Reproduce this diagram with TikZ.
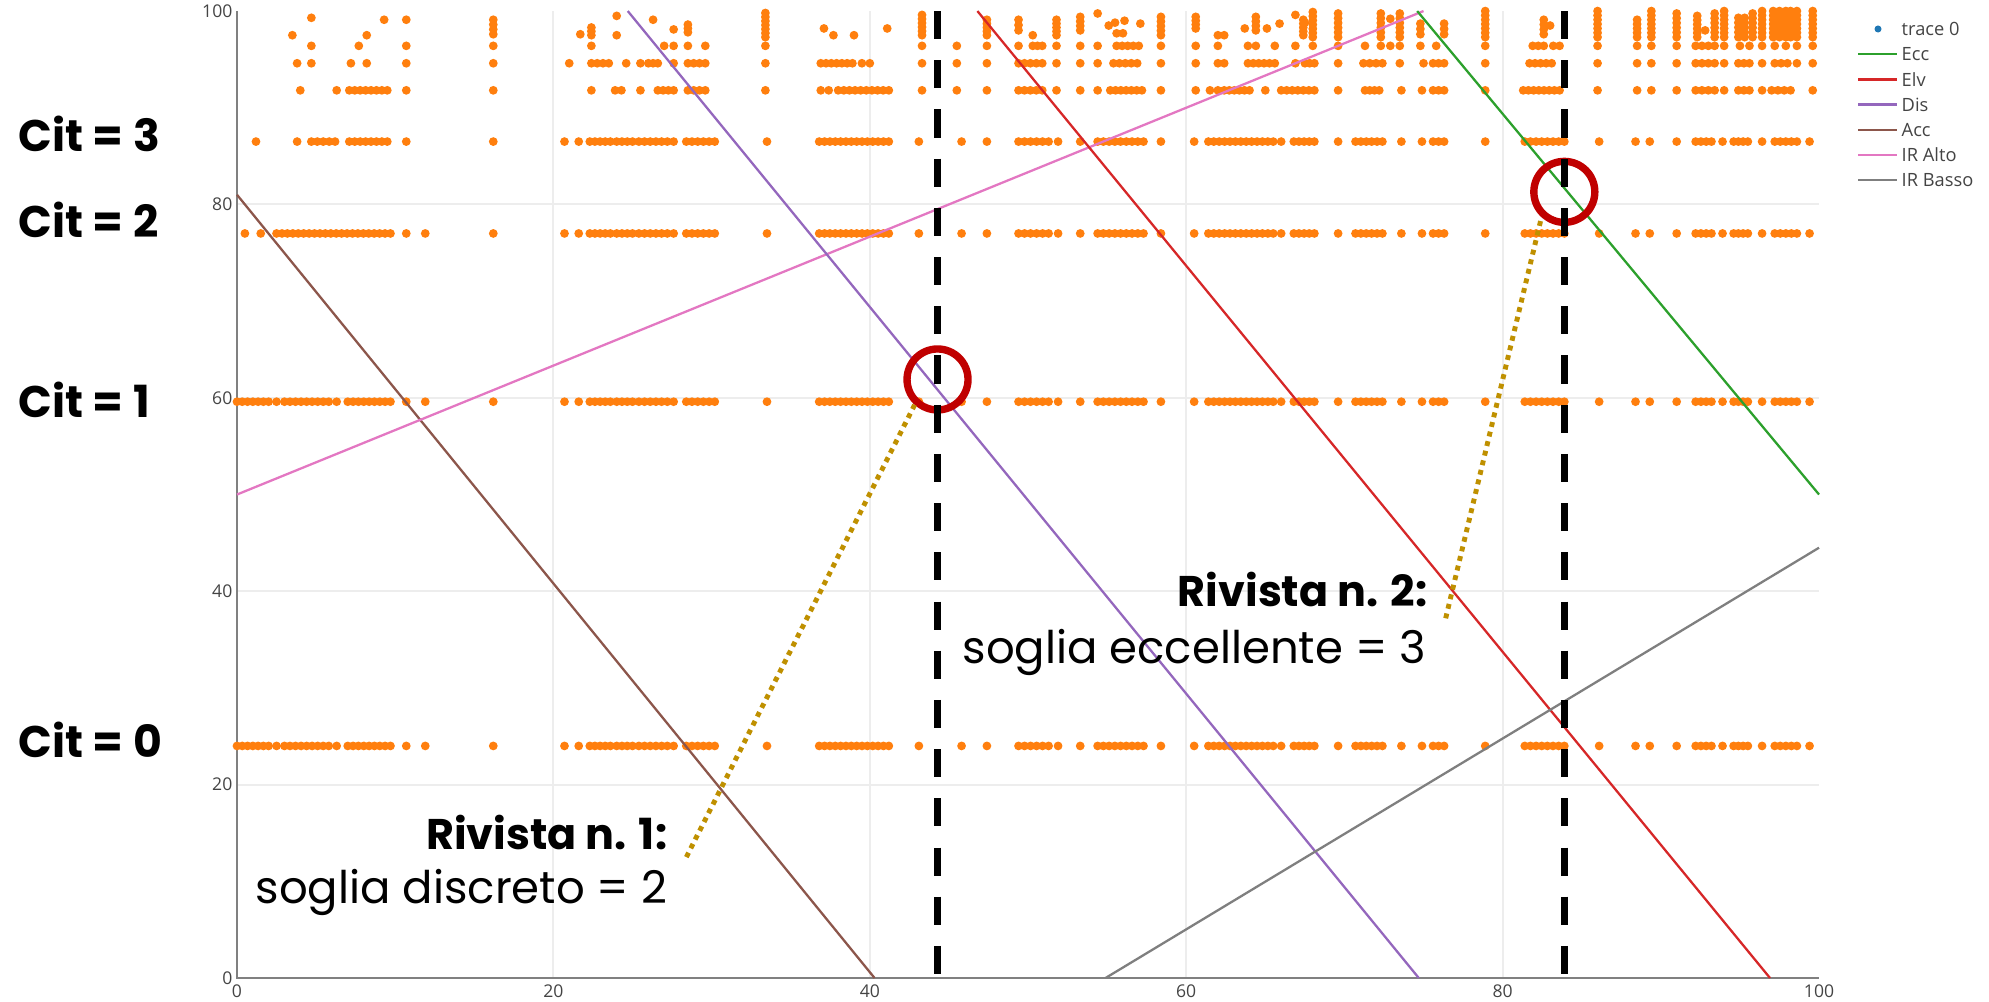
\documentclass[tikz,border=0pt]{standalone}
\usepackage{fontspec}
\newfontfamily\slidefont{Poppins}
\newfontfamily\plotfont{Open Sans}
\definecolor{citorange}{HTML}{FF7F0E}
\definecolor{traceblue}{HTML}{1F77B4}
\definecolor{ecccol}{HTML}{2CA02C}
\definecolor{elvcol}{HTML}{D62728}
\definecolor{discol}{HTML}{9467BD}
\definecolor{acccol}{HTML}{8C564B}
\definecolor{altocol}{HTML}{E377C2}
\definecolor{bassocol}{HTML}{7F7F7F}
\definecolor{plotgray}{HTML}{444444}
\definecolor{ringred}{HTML}{C00000}
\definecolor{leadgold}{HTML}{BF9000}

\begin{document}
\begin{tikzpicture}[every node/.style={inner sep=0pt},
    gridline/.style={draw=black!7, line width=0.6pt},
    axisline/.style={draw=black!50, line width=0.7pt},
    ticklabel/.style={font=\plotfont\fontsize{5}{6}\selectfont, text=plotgray},
    legtext/.style={font=\plotfont\fontsize{5.2}{6}\selectfont, text=plotgray, anchor=west},
    citdot/.style={fill=citorange},
    ecc/.style={draw=ecccol, line width=0.65pt},
    elv/.style={draw=elvcol, line width=0.65pt},
    dis/.style={draw=discol, line width=0.65pt},
    acc/.style={draw=acccol, line width=0.65pt},
    iralto/.style={draw=altocol, line width=0.65pt},
    irbasso/.style={draw=bassocol, line width=0.65pt},
    threshold/.style={draw=black, line width=2pt, dash pattern=on 8pt off 6pt},
    hitring/.style={circle, draw=ringred, line width=2.1pt, minimum size=0.61cm},
    leader/.style={draw=leadgold, line width=1.4pt, dash pattern=on 1.4pt off 1.4pt},
    citlabel/.style={font=\slidefont\bfseries\fontsize{12.6}{15}\selectfont, anchor=base west},
    boldnote/.style={font=\slidefont\bfseries\fontsize{12.2}{15}\selectfont, anchor=base east},
    plainnote/.style={font=\slidefont\fontsize{12.8}{15}\selectfont, anchor=base east}]
    \useasboundingbox (0,0) rectangle (19.89,10.01);

    \begin{scope}[shift={(2.37,0.23)}, x=0.1582cm, y=0.0967cm]
    \foreach \v in {20,40,60,80} {
        \draw[gridline] (\v,0) -- (\v,100);
        \draw[gridline] (0,\v) -- (100,\v);
    }
    \draw[axisline] (0,100) -- (0,0) -- (100,0);
    \foreach \v in {0,20,...,100} {
        \node[ticklabel, anchor=east] (yt\v) at (-0.25,\v) {\v};
        \node[ticklabel, anchor=north] (xt\v) at (\v,-0.6) {\v};
    }

    % rows of points, runs given as from/to
    \foreach \yy/\runs in {
        24.0/{0/2,2.5/2.5,3/5.8,6.3/6.3,7/9.7,10.7/10.7,11.9/11.9},
        59.6/{0/2,2.5/2.5,3/5.8,6.3/6.3,7/9.7,10.7/10.7,11.9/11.9},
        77.0/{0.5/0.5,1.5/1.5,2.5/9.7,10.7/10.7,11.9/11.9},
        86.5/{1.2/1.2,3.8/3.8,4.7/6.2,7.1/9.5,10.7/10.7},
        91.8/{4.0/4.0,6.3/6.3,7.1/9.5,10.7/10.7,16.2/16.2,22.4/22.4,23.9/24.3,25.5/25.5,26.6/27.6,28.5/29.6,33.4/33.4,36.9/37.4,38.0/41.2,43.3/43.3,45.5/45.5,47.4/47.4,49.4/50.9,51.8/51.8,53.3/53.3,54.4/54.4,55.2/57.2,58.4/58.4,60.6/60.6,61.5/62.0,62.4/64.0,65.0/65.0,66.0/68.1,69.6/69.6,71.3/72.2,73.6/73.6,74.9/74.9,75.6/76.3,78.9/78.9,81.3/83.6,86.0/86.0,88.5/88.5,89.4/89.4,91.0/91.0,92.2/93.4,94.0/94.0,94.9/95.6,96.4/96.4,97.0/98.2,99.6/99.6},
        94.6/{3.8/3.8,4.7/4.7,7.2/7.2,8.2/8.2,10.7/10.7,16.2/16.2,21.0/21.0,22.4/23.5,24.6/24.6,25.5/25.5,26.0/26.6,27.6/27.6,28.5/29.6,33.4/33.4,36.9/38.9,39.5/40.0,43.3/43.3,45.5/45.5,47.4/47.4,49.4/50.9,51.8/51.8,53.3/53.3,54.4/54.4,55.4/56.9,58.4/58.4,60.6/60.6,62.0/62.4,63.9/65.6,66.9/66.9,67.5/68.1,69.6/69.6,71.2/72.4,73.5/73.5,75.0/75.0,75.6/76.3,78.9/78.9,81.7/83.1,86.0/86.0,88.5/88.5,89.4/89.4,91.0/91.0,92.2/93.4,94.0/94.0,94.9/95.6,96.4/96.4,97.2/98.0,98.6/98.6,99.6/99.6},
        96.4/{4.7/4.7,7.7/7.7,10.7/10.7,16.2/16.2,22.4/22.4,27.0/27.0,27.6/27.6,28.5/28.5,29.6/29.6,33.4/33.4,43.3/43.3,45.5/45.5,47.4/47.4,49.4/49.4,50.3/50.9,51.8/51.8,53.3/53.3,54.4/54.4,55.6/57.0,58.4/58.4,60.6/60.6,62.0/62.0,63.9/64.4,65.6/65.6,66.9/66.9,68.0/68.0,69.6/69.6,71.3/71.3,72.3/72.3,72.9/72.9,73.5/73.5,74.8/74.8,75.8/75.8,78.9/78.9,81.9/82.6,83.2/83.6,86.0/86.0,88.5/88.5,89.4/89.4,91.0/91.0,92.2/93.4,94.0/94.0,95.0/95.0,95.6/95.6,96.4/96.4,97.2/97.2,97.9/97.9,98.6/98.6,99.6/99.6}} {
        \foreach \a/\b in \runs {
            \pgfmathtruncatemacro\n{round((\b-\a)/0.35)}
            \foreach \k in {0,...,\n}
                \fill[citdot] ({\a+(\b-\a)*\k/max(\n,1)},\yy) circle[radius=1.25pt];
        }
    }
    \foreach \yy in {24.0,59.6,77.0,86.5} {
        \foreach \a/\b in {16.2/16.2,20.7/20.7,21.6/21.6,22.3/23.6,24.0/25.0,25.4/27.2,27.6/27.6,28.4/30.2,33.5/33.5,36.8/41.2,43.1/43.1,45.8/45.8,47.4/47.4,49.4/51.3,51.9/51.9,53.3/53.3,54.4/57.3,58.4/58.4,60.5/60.5,61.4/65.5,66.0/66.0,66.8/68.1,69.6/69.6,70.7/72.4,73.6/73.6,74.9/74.9,75.6/76.3,78.9/78.9,81.4/83.9,86.1/86.1,88.4/88.4,89.3/89.3,91.0/91.0,92.2/93.2,93.9/93.9,94.6/95.5,96.4/96.4,97.2/98.6,99.4/99.4} {
            \pgfmathtruncatemacro\n{round((\b-\a)/0.35)}
            \foreach \k in {0,...,\n}
                \fill[citdot] ({\a+(\b-\a)*\k/max(\n,1)},\yy) circle[radius=1.25pt];
        }
    }
    % stacks near the top
    \foreach \xx/\a/\b in {16.2/97.6/99.1,22.4/97.5/98.3,28.5/97.8/98.6,33.4/97.3/99.8,43.3/97.5/99.6,47.4/97.5/99.1,49.4/98.0/99.1,51.8/97.5/99.1,53.3/98.0/99.4,58.4/97.5/99.4,60.6/98.2/99.4,64.4/98.0/99.4,67.4/97.5/99.1,68.0/97.3/99.9,69.6/97.3/99.75,72.3/97.3/99.75,73.5/97.3/99.75,74.8/97.6/98.7,76.3/97.6/98.7,78.9/97.3/100,82.6/97.6/99.1,86.0/97.3/100,88.5/97.3/99.1,89.4/97.3/100,91.0/97.3/99.75,92.3/97.3/99.5,93.4/97.3/99.75,94.0/97.3/100,94.9/97.3/99.3,95.3/97.3/99.3,95.8/97.3/99.75,96.4/97.3/100,97.1/97.3/100,97.5/97.3/100,97.9/97.3/100,98.2/97.3/100,98.6/97.3/100,99.6/97.3/100} {
        \pgfmathtruncatemacro\n{round((\b-\a)/0.45)}
        \foreach \k in {0,...,\n}
            \fill[citdot] (\xx,{\a+(\b-\a)*\k/max(\n,1)}) circle[radius=1.25pt];
    }
    \foreach \xx/\yy in {3.5/97.5,4.7/99.3,8.2/97.5,9.3/99.1,10.7/99.1,21.7/97.6,24.0/99.5,24.0/97.5,26.3/99.1,27.6/98.1,37.1/98.2,37.7/97.5,39.0/97.5,41.1/98.2,50.3/97.5,54.4/99.75,55.1/98.5,55.5/98.8,56.1/99.0,55.6/97.7,56.0/97.7,57.1/98.7,62.0/97.5,62.4/97.5,63.7/98.2,65.1/98.2,65.9/98.7,66.9/99.6,67.5/98.8,72.9/99.2,83.0/98.5,92.8/98.0}
        \fill[citdot] (\xx,\yy) circle[radius=1.25pt];

    \draw[acc] (0,81) -- (40.3,0);
    \draw[iralto] (0,50) -- (75,100);
    \draw[dis] (24.7,100) -- (74.7,0);
    \draw[elv] (46.8,100) -- (96.9,0);
    \draw[ecc] (74.6,100) -- (100,50);
    \draw[irbasso] (54.9,0) -- (100,44.5);

    \node[hitring] (hit1) at (44.28,61.9) {};
    \node[hitring] (hit2) at (83.9,81.3) {};
    \draw[threshold] (44.28,100) -- (44.28,0.3);
    \draw[threshold] (83.9,100) -- (83.9,0.3);
    \coordinate (tip1) at (28.4,12.5);
    \coordinate (tip2) at (76.4,37.2);
    \draw[leader] (tip1) -- (hit1.228);
    \draw[leader] (tip2) -- (hit2.228);
    \end{scope}

    \node[citlabel] (cit3) at (0.18,8.49) {Cit = 3};
    \node[citlabel] (cit2) at (0.18,7.63) {Cit = 2};
    \node[citlabel] (cit1) at (0.18,5.84) {Cit = 1};
    \node[citlabel] (cit0) at (0.18,2.44) {Cit = 0};

    \node[boldnote] (rev1) at (6.68,1.52) {Rivista n. 1:};
    \node[plainnote] (rev1txt) at (6.68,0.98) {soglia discreto = 2};
    \node[boldnote] (rev2) at (14.28,3.95) {Rivista n. 2:};
    \node[plainnote] (rev2txt) at (14.27,3.38) {soglia eccellente = 3};

    \fill[traceblue] (18.78,9.72) circle[radius=1pt];
    \node[legtext] (legtrace) at (19.01,9.72) {trace 0};
    \foreach \lab/\sty [count=\i] in {Ecc/ecc,Elv/elv,Dis/dis,Acc/acc,IR Alto/iralto,IR Basso/irbasso} {
        \node[legtext] (leg\i) at (19.01,{9.72-0.252*\i}) {\lab};
        \draw[\sty] (18.58,{9.72-0.252*\i}) -- (18.97,{9.72-0.252*\i});
    }
\end{tikzpicture}
\end{document}
